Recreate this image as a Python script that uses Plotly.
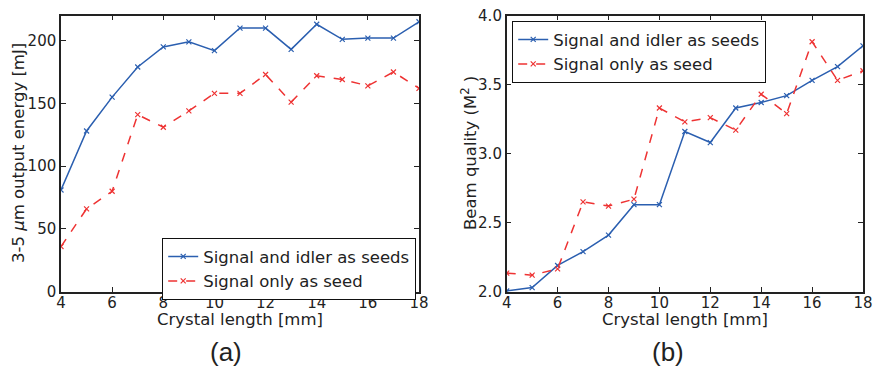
import plotly.graph_objects as go

lengths = [4, 5, 6, 7, 8, 9, 10, 11, 12, 13, 14, 15, 16, 17, 18]
energy_both = [81, 128, 155, 179, 195, 199, 192, 210, 210, 193, 213, 201, 202, 202, 215]
energy_signal = [36, 66, 80, 141, 131, 144, 158, 158, 173, 151, 172, 169, 164, 175, 162]
m2_both = [2.005, 2.03, 2.19, 2.29, 2.41, 2.63, 2.63, 3.16, 3.08, 3.33, 3.37, 3.42, 3.53, 3.63, 3.78]
m2_signal = [2.135, 2.12, 2.165, 2.65, 2.62, 2.67, 3.33, 3.23, 3.26, 3.17, 3.43, 3.29, 3.81, 3.53, 3.60]
name_both = "Signal and idler as seeds"
name_signal = "Signal only as seed"
x_ticks = [4, 6, 8, 10, 12, 14, 16, 18]
energy_ticks = [0, 50, 100, 150, 200]
m2_ticks = [2.0, 2.5, 3.0, 3.5, 4.0]
m2_ticklabels = ["2.0", "2.5", "3.0", "3.5", "4.0"]

BLUE = "#2b5fb0"
RED = "#ee3333"
FONT = "DejaVu Sans"
TXT = "#222222"

W, H = 875, 367
def px(x):
    return x / W
def py(y):
    return 1 - y / H

fig = go.Figure()

def add(x, y, color, dash, name, xa, ya, legend):
    fig.add_trace(go.Scatter(
        x=x, y=y, mode="lines+markers", name=name,
        line=dict(color=color, width=1.5, dash=dash),
        marker=dict(symbol="x-thin", size=5, line=dict(color=color, width=1.2)),
        xaxis=xa, yaxis=ya, legend=legend))

add(lengths, energy_both, BLUE, "solid", name_both, "x", "y", "legend")
add(lengths, energy_signal, RED, "dash", name_signal, "x", "y", "legend")
add(lengths, m2_both, BLUE, "solid", name_both, "x2", "y2", "legend2")
add(lengths, m2_signal, RED, "dash", name_signal, "x2", "y2", "legend2")

ydom = [py(291.7), py(15.5)]
axis_common = dict(showline=True, linecolor="#222222", linewidth=1.5, mirror="allticks",
                   ticks="inside", ticklen=5, tickwidth=1, tickcolor="#222222",
                   showgrid=False, zeroline=False, automargin=False,
                   tickfont=dict(family=FONT, size=15, color=TXT))

legend_common = dict(xanchor="left", yanchor="top",
                     bordercolor="#111111", borderwidth=1.2, bgcolor="white",
                     font=dict(family=FONT, size=16.5, color=TXT), tracegroupgap=0,
                     itemwidth=30)

fig.update_layout(
    template="none",
    width=W, height=H, margin=dict(l=0, r=0, t=0, b=0, pad=0, autoexpand=False),
    plot_bgcolor="white", paper_bgcolor="white",
    xaxis=dict(domain=[px(61), px(419)], range=[4, 18], tickvals=x_ticks, anchor="y",
               ticklabelstandoff=-3, **axis_common),
    yaxis=dict(domain=ydom, range=[0, 220], tickvals=energy_ticks, anchor="x", **axis_common),
    xaxis2=dict(domain=[px(506.7), px(863)], range=[4, 18], tickvals=x_ticks, anchor="y2",
                ticklabelstandoff=-3, **axis_common),
    yaxis2=dict(domain=ydom, range=[2.0, 4.0], tickvals=m2_ticks, ticktext=m2_ticklabels, anchor="x2", **axis_common),
    legend=dict(x=px(162), y=py(238), **legend_common),
    legend2=dict(x=px(512), y=py(21), **legend_common),
    showlegend=True,
)

annots = [
    dict(text="Crystal length [mm]", x=px(240), y=py(319), font=dict(size=16.5)),
    dict(text="Crystal length [mm]", x=px(685), y=py(319), font=dict(size=16.5)),
    dict(text="(a)", x=px(226), y=py(352), font=dict(size=26, family="Liberation Sans")),
    dict(text="(b)", x=px(668), y=py(352), font=dict(size=26, family="Liberation Sans")),
    dict(text="3-5 <i>μ</i>m output energy [mJ]", x=px(18), y=py(153), textangle=-90, font=dict(size=16.5)),
    dict(text="Beam quality (M<sup>2</sup> )", x=px(469), y=py(153), textangle=-90, font=dict(size=16.5)),
]
for a in annots:
    f = dict(family=FONT, color=TXT)
    f.update(a.pop("font"))
    fig.add_annotation(xref="paper", yref="paper", showarrow=False,
                       xanchor="center", yanchor="middle", font=f, **a)

fig.write_html("out.html")
